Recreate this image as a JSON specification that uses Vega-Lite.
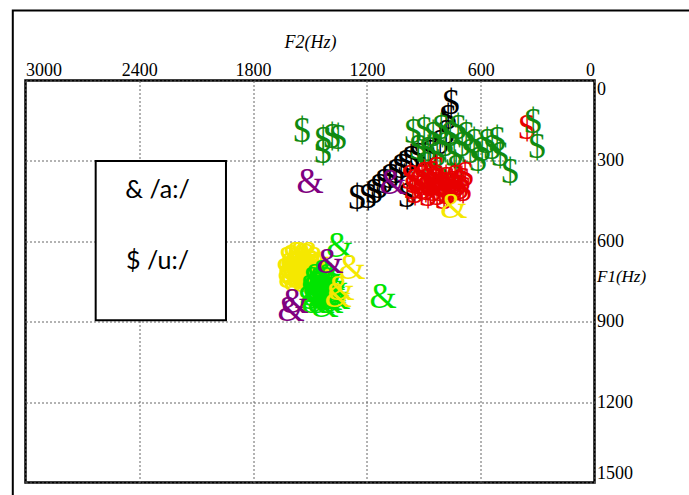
{
  "$schema": "https://vega.github.io/schema/vega-lite/v6.json",
  "width": 569,
  "height": 402,
  "autosize": {"type": "none"},
  "padding": {"left": 25.5, "top": 80.5, "right": 94.5, "bottom": 12.5},
  "background": "white",
  "config": {"view": {"stroke": "black", "strokeWidth": 2.5}, "font": "Liberation Serif"},
  "resolve": {"axis": {"x": "independent", "y": "independent"}},
  "datasets": {
    "points": [
      {"F2": 1252, "F1": 439, "vowel": "u", "sym": "$", "grp": "S2"},
      {"F2": 1194, "F1": 435, "vowel": "u", "sym": "$", "grp": "S2"},
      {"F2": 1162, "F1": 417, "vowel": "u", "sym": "$", "grp": "S2"},
      {"F2": 1136, "F1": 398, "vowel": "u", "sym": "$", "grp": "S2"},
      {"F2": 1110, "F1": 379, "vowel": "u", "sym": "$", "grp": "S2"},
      {"F2": 1078, "F1": 361, "vowel": "u", "sym": "$", "grp": "S2"},
      {"F2": 1046, "F1": 342, "vowel": "u", "sym": "$", "grp": "S2"},
      {"F2": 1020, "F1": 323, "vowel": "u", "sym": "$", "grp": "S2"},
      {"F2": 994, "F1": 308, "vowel": "u", "sym": "$", "grp": "S2"},
      {"F2": 967, "F1": 293, "vowel": "u", "sym": "$", "grp": "S2"},
      {"F2": 988, "F1": 432, "vowel": "u", "sym": "$", "grp": "S2"},
      {"F2": 930, "F1": 282, "vowel": "u", "sym": "$", "grp": "S2"},
      {"F2": 867, "F1": 271, "vowel": "u", "sym": "$", "grp": "S2"},
      {"F2": 815, "F1": 234, "vowel": "u", "sym": "$", "grp": "S2"},
      {"F2": 783, "F1": 196, "vowel": "u", "sym": "$", "grp": "S2"},
      {"F2": 772, "F1": 140, "vowel": "u", "sym": "$", "grp": "S2"},
      {"F2": 757, "F1": 84, "vowel": "u", "sym": "$", "grp": "S2"},
      {"F2": 1542, "F1": 189, "vowel": "u", "sym": "$", "grp": "S1"},
      {"F2": 1431, "F1": 222, "vowel": "u", "sym": "$", "grp": "S1"},
      {"F2": 1431, "F1": 267, "vowel": "u", "sym": "$", "grp": "S1"},
      {"F2": 1384, "F1": 211, "vowel": "u", "sym": "$", "grp": "S1"},
      {"F2": 1352, "F1": 215, "vowel": "u", "sym": "$", "grp": "S1"},
      {"F2": 957, "F1": 192, "vowel": "u", "sym": "$", "grp": "S1"},
      {"F2": 930, "F1": 252, "vowel": "u", "sym": "$", "grp": "S1"},
      {"F2": 899, "F1": 185, "vowel": "u", "sym": "$", "grp": "S1"},
      {"F2": 878, "F1": 260, "vowel": "u", "sym": "$", "grp": "S1"},
      {"F2": 851, "F1": 204, "vowel": "u", "sym": "$", "grp": "S1"},
      {"F2": 830, "F1": 278, "vowel": "u", "sym": "$", "grp": "S1"},
      {"F2": 809, "F1": 177, "vowel": "u", "sym": "$", "grp": "S1"},
      {"F2": 788, "F1": 241, "vowel": "u", "sym": "$", "grp": "S1"},
      {"F2": 762, "F1": 204, "vowel": "u", "sym": "$", "grp": "S1"},
      {"F2": 741, "F1": 278, "vowel": "u", "sym": "$", "grp": "S1"},
      {"F2": 720, "F1": 177, "vowel": "u", "sym": "$", "grp": "S1"},
      {"F2": 699, "F1": 241, "vowel": "u", "sym": "$", "grp": "S1"},
      {"F2": 677, "F1": 204, "vowel": "u", "sym": "$", "grp": "S1"},
      {"F2": 656, "F1": 267, "vowel": "u", "sym": "$", "grp": "S1"},
      {"F2": 635, "F1": 230, "vowel": "u", "sym": "$", "grp": "S1"},
      {"F2": 730, "F1": 327, "vowel": "u", "sym": "$", "grp": "S1"},
      {"F2": 815, "F1": 334, "vowel": "u", "sym": "$", "grp": "S1"},
      {"F2": 894, "F1": 316, "vowel": "u", "sym": "$", "grp": "S1"},
      {"F2": 614, "F1": 297, "vowel": "u", "sym": "$", "grp": "S1"},
      {"F2": 593, "F1": 260, "vowel": "u", "sym": "$", "grp": "S1"},
      {"F2": 567, "F1": 230, "vowel": "u", "sym": "$", "grp": "S1"},
      {"F2": 540, "F1": 252, "vowel": "u", "sym": "$", "grp": "S1"},
      {"F2": 514, "F1": 222, "vowel": "u", "sym": "$", "grp": "S1"},
      {"F2": 498, "F1": 278, "vowel": "u", "sym": "$", "grp": "S1"},
      {"F2": 445, "F1": 342, "vowel": "u", "sym": "$", "grp": "S1"},
      {"F2": 356, "F1": 177, "vowel": "u", "sym": "$", "grp": "S3"},
      {"F2": 324, "F1": 155, "vowel": "u", "sym": "$", "grp": "S1"},
      {"F2": 303, "F1": 248, "vowel": "u", "sym": "$", "grp": "S1"},
      {"F2": 973, "F1": 364, "vowel": "u", "sym": "$", "grp": "S3"},
      {"F2": 930, "F1": 383, "vowel": "u", "sym": "$", "grp": "S3"},
      {"F2": 899, "F1": 353, "vowel": "u", "sym": "$", "grp": "S3"},
      {"F2": 867, "F1": 390, "vowel": "u", "sym": "$", "grp": "S3"},
      {"F2": 836, "F1": 364, "vowel": "u", "sym": "$", "grp": "S3"},
      {"F2": 815, "F1": 409, "vowel": "u", "sym": "$", "grp": "S3"},
      {"F2": 783, "F1": 372, "vowel": "u", "sym": "$", "grp": "S3"},
      {"F2": 762, "F1": 417, "vowel": "u", "sym": "$", "grp": "S3"},
      {"F2": 735, "F1": 364, "vowel": "u", "sym": "$", "grp": "S3"},
      {"F2": 709, "F1": 402, "vowel": "u", "sym": "$", "grp": "S3"},
      {"F2": 683, "F1": 353, "vowel": "u", "sym": "$", "grp": "S3"},
      {"F2": 693, "F1": 409, "vowel": "u", "sym": "$", "grp": "S3"},
      {"F2": 946, "F1": 417, "vowel": "u", "sym": "$", "grp": "S3"},
      {"F2": 878, "F1": 428, "vowel": "u", "sym": "$", "grp": "S3"},
      {"F2": 793, "F1": 439, "vowel": "u", "sym": "$", "grp": "S3"},
      {"F2": 836, "F1": 334, "vowel": "u", "sym": "$", "grp": "S3"},
      {"F2": 950, "F1": 380, "vowel": "u", "sym": "$", "grp": "S3"},
      {"F2": 910, "F1": 365, "vowel": "u", "sym": "$", "grp": "S3"},
      {"F2": 880, "F1": 375, "vowel": "u", "sym": "$", "grp": "S3"},
      {"F2": 850, "F1": 378, "vowel": "u", "sym": "$", "grp": "S3"},
      {"F2": 820, "F1": 390, "vowel": "u", "sym": "$", "grp": "S3"},
      {"F2": 800, "F1": 390, "vowel": "u", "sym": "$", "grp": "S3"},
      {"F2": 770, "F1": 395, "vowel": "u", "sym": "$", "grp": "S3"},
      {"F2": 750, "F1": 385, "vowel": "u", "sym": "$", "grp": "S3"},
      {"F2": 720, "F1": 385, "vowel": "u", "sym": "$", "grp": "S3"},
      {"F2": 890, "F1": 405, "vowel": "u", "sym": "$", "grp": "S3"},
      {"F2": 850, "F1": 410, "vowel": "u", "sym": "$", "grp": "S3"},
      {"F2": 830, "F1": 425, "vowel": "u", "sym": "$", "grp": "S3"},
      {"F2": 910, "F1": 400, "vowel": "u", "sym": "$", "grp": "S3"},
      {"F2": 960, "F1": 400, "vowel": "u", "sym": "$", "grp": "S3"},
      {"F2": 860, "F1": 350, "vowel": "u", "sym": "$", "grp": "S3"},
      {"F2": 780, "F1": 420, "vowel": "u", "sym": "$", "grp": "S3"},
      {"F2": 700, "F1": 375, "vowel": "u", "sym": "$", "grp": "S3"},
      {"F2": 740, "F1": 400, "vowel": "u", "sym": "$", "grp": "S3"},
      {"F2": 1584, "F1": 663, "vowel": "a", "sym": "&", "grp": "S5"},
      {"F2": 1542, "F1": 652, "vowel": "a", "sym": "&", "grp": "S5"},
      {"F2": 1500, "F1": 659, "vowel": "a", "sym": "&", "grp": "S5"},
      {"F2": 1463, "F1": 670, "vowel": "a", "sym": "&", "grp": "S5"},
      {"F2": 1595, "F1": 693, "vowel": "a", "sym": "&", "grp": "S5"},
      {"F2": 1553, "F1": 686, "vowel": "a", "sym": "&", "grp": "S5"},
      {"F2": 1510, "F1": 693, "vowel": "a", "sym": "&", "grp": "S5"},
      {"F2": 1468, "F1": 700, "vowel": "a", "sym": "&", "grp": "S5"},
      {"F2": 1584, "F1": 723, "vowel": "a", "sym": "&", "grp": "S5"},
      {"F2": 1542, "F1": 719, "vowel": "a", "sym": "&", "grp": "S5"},
      {"F2": 1500, "F1": 730, "vowel": "a", "sym": "&", "grp": "S5"},
      {"F2": 1568, "F1": 745, "vowel": "a", "sym": "&", "grp": "S5"},
      {"F2": 1521, "F1": 749, "vowel": "a", "sym": "&", "grp": "S5"},
      {"F2": 1479, "F1": 738, "vowel": "a", "sym": "&", "grp": "S5"},
      {"F2": 1447, "F1": 693, "vowel": "a", "sym": "&", "grp": "S5"},
      {"F2": 1605, "F1": 670, "vowel": "a", "sym": "&", "grp": "S5"},
      {"F2": 1563, "F1": 670, "vowel": "a", "sym": "&", "grp": "S5"},
      {"F2": 1521, "F1": 670, "vowel": "a", "sym": "&", "grp": "S5"},
      {"F2": 1479, "F1": 680, "vowel": "a", "sym": "&", "grp": "S5"},
      {"F2": 1574, "F1": 705, "vowel": "a", "sym": "&", "grp": "S5"},
      {"F2": 1531, "F1": 705, "vowel": "a", "sym": "&", "grp": "S5"},
      {"F2": 1489, "F1": 712, "vowel": "a", "sym": "&", "grp": "S5"},
      {"F2": 1457, "F1": 715, "vowel": "a", "sym": "&", "grp": "S5"},
      {"F2": 1595, "F1": 735, "vowel": "a", "sym": "&", "grp": "S5"},
      {"F2": 1553, "F1": 735, "vowel": "a", "sym": "&", "grp": "S5"},
      {"F2": 1510, "F1": 740, "vowel": "a", "sym": "&", "grp": "S5"},
      {"F2": 1468, "F1": 720, "vowel": "a", "sym": "&", "grp": "S5"},
      {"F2": 1526, "F1": 660, "vowel": "a", "sym": "&", "grp": "S5"},
      {"F2": 1490, "F1": 650, "vowel": "a", "sym": "&", "grp": "S5"},
      {"F2": 1560, "F1": 650, "vowel": "a", "sym": "&", "grp": "S5"},
      {"F2": 1600, "F1": 710, "vowel": "a", "sym": "&", "grp": "S5"},
      {"F2": 1530, "F1": 690, "vowel": "a", "sym": "&", "grp": "S5"},
      {"F2": 1545, "F1": 728, "vowel": "a", "sym": "&", "grp": "S5"},
      {"F2": 1342, "F1": 618, "vowel": "a", "sym": "&", "grp": "S6"},
      {"F2": 1115, "F1": 809, "vowel": "a", "sym": "&", "grp": "S6"},
      {"F2": 1474, "F1": 745, "vowel": "a", "sym": "&", "grp": "S6"},
      {"F2": 1437, "F1": 760, "vowel": "a", "sym": "&", "grp": "S6"},
      {"F2": 1400, "F1": 745, "vowel": "a", "sym": "&", "grp": "S6"},
      {"F2": 1368, "F1": 768, "vowel": "a", "sym": "&", "grp": "S6"},
      {"F2": 1458, "F1": 790, "vowel": "a", "sym": "&", "grp": "S6"},
      {"F2": 1416, "F1": 801, "vowel": "a", "sym": "&", "grp": "S6"},
      {"F2": 1379, "F1": 790, "vowel": "a", "sym": "&", "grp": "S6"},
      {"F2": 1484, "F1": 813, "vowel": "a", "sym": "&", "grp": "S6"},
      {"F2": 1442, "F1": 828, "vowel": "a", "sym": "&", "grp": "S6"},
      {"F2": 1394, "F1": 828, "vowel": "a", "sym": "&", "grp": "S6"},
      {"F2": 1358, "F1": 813, "vowel": "a", "sym": "&", "grp": "S6"},
      {"F2": 1489, "F1": 775, "vowel": "a", "sym": "&", "grp": "S6"},
      {"F2": 1421, "F1": 719, "vowel": "a", "sym": "&", "grp": "S6"},
      {"F2": 1458, "F1": 760, "vowel": "a", "sym": "&", "grp": "S6"},
      {"F2": 1416, "F1": 770, "vowel": "a", "sym": "&", "grp": "S6"},
      {"F2": 1384, "F1": 760, "vowel": "a", "sym": "&", "grp": "S6"},
      {"F2": 1470, "F1": 800, "vowel": "a", "sym": "&", "grp": "S6"},
      {"F2": 1430, "F1": 812, "vowel": "a", "sym": "&", "grp": "S6"},
      {"F2": 1400, "F1": 815, "vowel": "a", "sym": "&", "grp": "S6"},
      {"F2": 1370, "F1": 800, "vowel": "a", "sym": "&", "grp": "S6"},
      {"F2": 1450, "F1": 775, "vowel": "a", "sym": "&", "grp": "S6"},
      {"F2": 1410, "F1": 785, "vowel": "a", "sym": "&", "grp": "S6"},
      {"F2": 1440, "F1": 745, "vowel": "a", "sym": "&", "grp": "S6"},
      {"F2": 1395, "F1": 735, "vowel": "a", "sym": "&", "grp": "S6"},
      {"F2": 1475, "F1": 825, "vowel": "a", "sym": "&", "grp": "S6"},
      {"F2": 1420, "F1": 840, "vowel": "a", "sym": "&", "grp": "S6"},
      {"F2": 1380, "F1": 780, "vowel": "a", "sym": "&", "grp": "S6"},
      {"F2": 1460, "F1": 735, "vowel": "a", "sym": "&", "grp": "S6"},
      {"F2": 741, "F1": 473, "vowel": "a", "sym": "&", "grp": "S5"},
      {"F2": 1278, "F1": 700, "vowel": "a", "sym": "&", "grp": "S5"},
      {"F2": 1352, "F1": 805, "vowel": "a", "sym": "&", "grp": "S5"},
      {"F2": 1336, "F1": 779, "vowel": "a", "sym": "&", "grp": "S5"},
      {"F2": 1500, "F1": 379, "vowel": "a", "sym": "&", "grp": "S4"},
      {"F2": 1062, "F1": 383, "vowel": "a", "sym": "&", "grp": "S4"},
      {"F2": 1394, "F1": 678, "vowel": "a", "sym": "&", "grp": "S4"},
      {"F2": 1600, "F1": 857, "vowel": "a", "sym": "&", "grp": "S4"},
      {"F2": 1579, "F1": 828, "vowel": "a", "sym": "&", "grp": "S4"}
    ]
  },
  "layer": [
    {
      "data": {"values": [{}]},
      "mark": {"type": "rect", "fill": null, "stroke": "black", "strokeWidth": 2},
      "encoding": {
        "x": {"datum": 3067, "type": "quantitative", "scale": {"domain": [0, 3000], "reverse": true, "nice": false, "zero": false}, "axis": null},
        "x2": {"datum": -800},
        "y": {"datum": -261, "type": "quantitative", "scale": {"domain": [0, 1500], "reverse": true, "nice": false, "zero": false}, "axis": null},
        "y2": {"datum": 1800}
      }
    },
    {
      "data": {"name": "points"},
      "mark": {"type": "text", "font": "Liberation Serif", "fontSize": 35, "align": "center", "baseline": "middle"},
      "encoding": {
        "x": {
          "field": "F2", "type": "quantitative",
          "scale": {"domain": [0, 3000], "reverse": true, "nice": false, "zero": false},
          "axis": {
            "orient": "top", "values": [0, 600, 1200, 1800, 2400, 3000], "format": "d",
            "title": "F2(Hz)", "titleFont": "Liberation Serif", "titleFontStyle": "italic", "titleFontWeight": "normal",
            "titleFontSize": 18, "titleColor": "black", "titlePadding": 10,
            "labelFont": "Liberation Serif", "labelFontSize": 18, "labelColor": "black", "labelFlush": true, "labelOverlap": false,
            "labelPadding": 1, "ticks": false, "tickSize": 0, "domain": false,
            "grid": true, "gridColor": "#666666", "gridDash": [2, 2], "gridWidth": 1
          }
        },
        "y": {
          "field": "F1", "type": "quantitative",
          "scale": {"domain": [0, 1500], "reverse": true, "nice": false, "zero": false},
          "axis": {
            "orient": "right", "values": [0, 300, 600, 900, 1200, 1500], "format": "d",
            "title": "F1(Hz)", "titleFont": "Liberation Serif", "titleFontStyle": "italic", "titleFontWeight": "normal",
            "titleFontSize": 17, "titleColor": "black", "titleAngle": 0, "titleAlign": "left", "titleBaseline": "middle",
            "titleX": 2, "titleY": 196,
            "labelFont": "Liberation Serif", "labelFontSize": 18, "labelColor": "black", "labelFlush": true, "labelOverlap": false,
            "labelPadding": 2, "ticks": false, "tickSize": 0, "domain": false,
            "grid": true, "gridColor": "#666666", "gridDash": [2, 2], "gridWidth": 1
          }
        },
        "text": {"field": "sym"},
        "color": {
          "field": "grp", "type": "nominal",
          "scale": {"domain": ["S1", "S2", "S3", "S4", "S5", "S6"], "range": ["#108a10", "#000000", "#e80000", "#800080", "#f5e800", "#00e400"]},
          "legend": null
        }
      }
    },
    {
      "data": {"values": [{}]},
      "mark": {"type": "rect", "fill": "white", "stroke": "black", "strokeWidth": 2},
      "encoding": {
        "x": {"datum": 2630, "type": "quantitative", "axis": null},
        "x2": {"datum": 1943},
        "y": {"datum": 300, "type": "quantitative", "axis": null},
        "y2": {"datum": 895}
      }
    },
    {
      "data": {"values": [{"label": "& /a:/"}]},
      "mark": {"type": "text", "font": "Lato", "fontSize": 25, "align": "center", "baseline": "middle", "color": "black"},
      "encoding": {
        "x": {"datum": 2304, "type": "quantitative", "axis": null},
        "y": {"datum": 410, "type": "quantitative", "axis": null},
        "text": {"field": "label"}
      }
    },
    {
      "data": {"values": [{"label": "$ /u:/"}]},
      "mark": {"type": "text", "font": "Lato", "fontSize": 25, "align": "center", "baseline": "middle", "color": "black"},
      "encoding": {
        "x": {"datum": 2304, "type": "quantitative", "axis": null},
        "y": {"datum": 675, "type": "quantitative", "axis": null},
        "text": {"field": "label"}
      }
    }
  ]
}
